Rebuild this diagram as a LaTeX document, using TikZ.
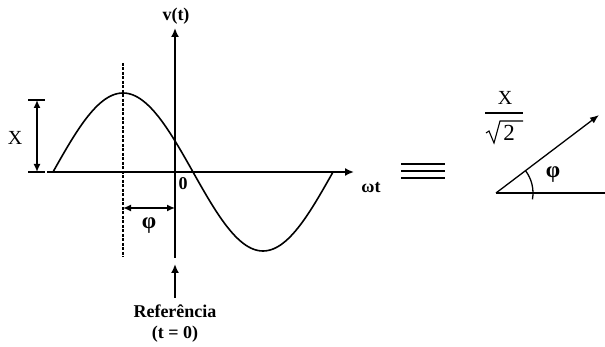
\documentclass[tikz,border=0pt]{standalone}
\usepackage{fontspec}
\setmainfont{Liberation Serif}
\usetikzlibrary{arrows.meta}
\tikzset{
  axis/.style={line width=1.7pt},
  curve/.style={line width=1.6pt},
  tip/.style={-{Latex[length=9pt,width=8pt]}},
  dtip/.style={{Latex[length=8pt,width=7pt]}-{Latex[length=8pt,width=7pt]}},
  lbl/.style={inner sep=0pt,font=\fontsize{18}{20}\selectfont\bfseries},
  glbl/.style={inner sep=0pt,font=\fontsize{23}{25}\selectfont\bfseries},
  rlbl/.style={inner sep=0pt,font=\fontsize{20}{22}\selectfont},
}
\begin{document}
\begin{tikzpicture}[x=1pt,y=-1pt]
\useasboundingbox (0,0) rectangle (605,347);
% axes
\coordinate (vtop) at (175,28);
\coordinate (vbot) at (175,258);
\coordinate (hl) at (47,172);
\coordinate (hr) at (354,172);
\draw[axis,tip] (vbot) -- (vtop);
\draw[axis,tip] (hl) -- (hr);
% sine
\draw[curve,domain=53:333,samples=120,smooth] plot (\x,{172-79*sin((\x-53)/140*180)});
% dashed
\coordinate (dtop) at (123,63);
\coordinate (dbot) at (123,257);
\draw[line width=1.1pt,dash pattern=on 3pt off 1.5pt] (dtop) -- (dbot);
% amplitude
\coordinate (at) at (37,100);
\coordinate (ab) at (37,172);
\draw[line width=1.4pt] (28,100) -- (45,100);
\draw[line width=1.4pt] (28,172) -- (45,172);
\draw[line width=1.4pt,dtip] (at) -- (ab);
\node[rlbl] (X) at (15,138) {X};
% phase
\coordinate (pl) at (123,208);
\coordinate (pr) at (175,208);
\draw[line width=1.4pt,dtip] (pl) -- (pr);
\node[glbl] (phi) at (149,226) {φ};
% labels
\node[lbl] (vt) at (176,16) {v(t)};
\node[lbl] (zero) at (183,184) {0};
\node[lbl] (wt) at (371,188) {ωt};
% reference
\coordinate (rb) at (175,298);
\coordinate (rt) at (175,264);
\draw[axis,tip] (rb) -- (rt);
\node[lbl] (ref) at (175,311) {Referência};
\node[lbl] (t0) at (175,334) {(t = 0)};
% equivalence
\foreach \yy in {164,171,178} \draw[line width=2.8pt] (401,\yy) -- (445,\yy);
% phasor
\coordinate (o) at (496,193);
\coordinate (hend) at (605,193);
\coordinate (vend) at (599,115);
\draw[line width=1.3pt] (o) -- (hend);
\draw[line width=1.3pt,-{Latex[length=9pt,width=7pt]}] (o) -- (vend);
\draw[line width=1.3pt] ([shift={(10:37)}]o) arc[start angle=10,end angle=-37,radius=37];
\node[glbl] (phi2) at (553,175) {φ};
% fraction X / sqrt 2
\node[inner sep=0pt,font=\fontsize{20}{22}\selectfont] (fx) at (505,98) {X};
\coordinate (fbl) at (485,113);
\coordinate (fbr) at (523,113);
\draw[line width=1.3pt] (fbl) -- (fbr);
\draw[line width=1.1pt] (486,133) -- (489,131) -- (494,143) -- (500,121) -- (523,121);
\node[inner sep=0pt,font=\fontsize{23}{25}\selectfont] (f2) at (509,133) {2};
\end{tikzpicture}
\end{document}
